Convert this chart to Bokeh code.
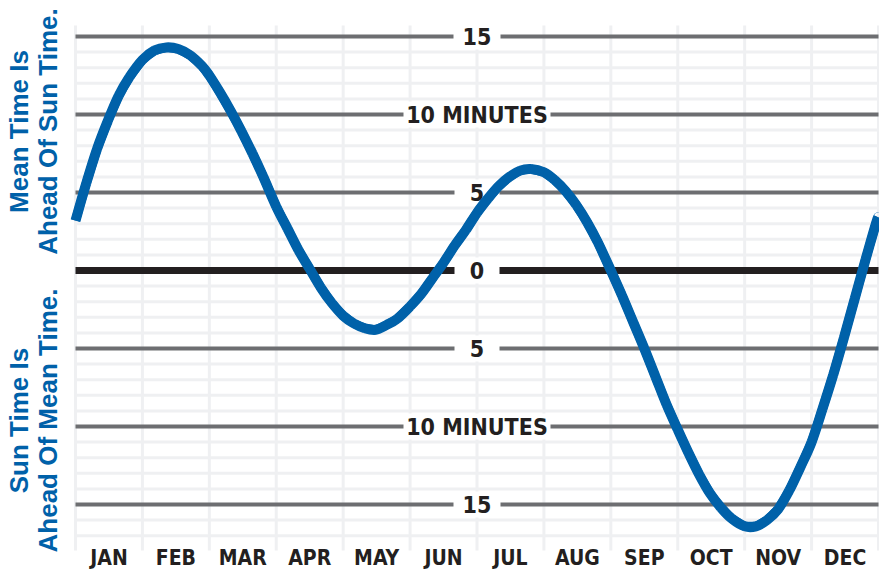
import math
from bokeh.plotting import figure
from bokeh.models import Range1d
from bokeh.core.properties import value
from bokeh.embed import file_html
from bokeh.resources import INLINE

# ---- data ----
month_names = ["JAN", "FEB", "MAR", "APR", "MAY", "JUN",
               "JUL", "AUG", "SEP", "OCT", "NOV", "DEC"]
days_in_month = [31, 28, 31, 30, 31, 30, 31, 31, 30, 31, 30, 31]

# equation of time samples (month number, day, minutes mean time ahead of sun time)
eot_month = [1]*6 + [2]*6 + [3]*6 + [4]*6 + [5]*6 + [6]*6 + \
            [7]*6 + [8]*6 + [9]*6 + [10]*6 + [11]*6 + [12]*7 + [13]
eot_day = [1, 6, 11, 16, 21, 26]*11 + [1, 6, 11, 16, 21, 26, 31] + [1]
eot_minutes = [
    3.2, 5.6, 7.8, 9.6, 11.2, 12.4,
    13.5, 14.1, 14.3, 14.2, 13.8, 13.1,
    12.5, 11.4, 10.2, 8.9, 7.5, 6.0,
    4.1, 2.7, 1.3, 0.1, -1.1, -2.1,
    -2.9, -3.4, -3.7, -3.8, -3.5, -3.1,
    -2.3, -1.5, -0.5, 0.5, 1.6, 2.6,
    3.7, 4.6, 5.4, 6.0, 6.4, 6.5,
    6.3, 5.8, 5.1, 4.2, 3.1, 1.8,
    0.0, -1.6, -3.3, -5.0, -6.8, -8.6,
    -10.2, -11.7, -13.1, -14.3, -15.2, -15.9,
    -16.4, -16.4, -16.0, -15.3, -14.1, -12.6,
    -11.0, -8.9, -6.7, -4.3, -1.8, 0.7, 3.1,
    3.4,
]

major_values = [15, 10, 5, 0, -5, -10, -15]
major_texts = ["15", "10 MINUTES", "5", "0", "5", "10 MINUTES", "15"]
minor_values = list(range(-17, 16))

upper_title = ["Mean Time Is", "Ahead Of Sun Time."]
lower_title = ["Sun Time Is", "Ahead Of Mean Time."]

# ---- layout constants ----
W, H = 879, 571
PLOT_LEFT_PX, PLOT_RIGHT_PX = 75, 878
ZERO_PX, PX_PER_MIN = 270, 15.6
PX_PER_MONTH = (PLOT_RIGHT_PX - PLOT_LEFT_PX) / 12
Y_TOP, Y_BOTTOM = 15.7, -17.95   # extent of the gridded area (minutes)


def px_to_x(px):
    return (px - PLOT_LEFT_PX) / PX_PER_MONTH


def px_to_y(py):
    return (ZERO_PX - py) / PX_PER_MIN


def month_pos(m, d):
    if m == 13:
        return 12.0
    return (m - 1) + (d - 1) / days_in_month[m - 1]


xs = [month_pos(m, d) for m, d in zip(eot_month, eot_day)]
ys = eot_minutes

# smooth rendering of the curve through the samples (Catmull-Rom as cubic Beziers)
n = len(xs)
bx0, by0, bx1, by1, bcx0, bcy0, bcx1, bcy1 = [], [], [], [], [], [], [], []
for i in range(n - 1):
    i0, i3 = max(i - 1, 0), min(i + 2, n - 1)
    bx0.append(xs[i]); by0.append(ys[i])
    bx1.append(xs[i + 1]); by1.append(ys[i + 1])
    bcx0.append(xs[i] + (xs[i + 1] - xs[i0]) / 6)
    bcy0.append(ys[i] + (ys[i + 1] - ys[i0]) / 6)
    bcx1.append(xs[i + 1] - (xs[i3] - xs[i]) / 6)
    bcy1.append(ys[i + 1] - (ys[i3] - ys[i]) / 6)

BLUE = "#0061A9"
DARK = "#231F20"
GREY = "#6D6E71"
LIGHT = "#EFF0F2"
COND = "DejaVu Sans Condensed"

p = figure(width=W, height=H, output_backend="svg", toolbar_location=None,
           x_range=Range1d(px_to_x(0), px_to_x(W)),
           y_range=Range1d(px_to_y(H), px_to_y(0)),
           x_axis_location=None, y_axis_location=None,
           min_border=0)
p.outline_line_color = None
p.background_fill_color = "white"
p.border_fill_color = "white"
p.grid.visible = False

n_months = len(month_names)

# light grid: verticals at month boundaries, horizontals every minute
vx = list(range(0, n_months + 1))
p.segment(x0=vx, y0=[Y_BOTTOM]*len(vx), x1=vx, y1=[Y_TOP]*len(vx),
          line_color=LIGHT, line_width=3)
p.segment(x0=[0]*len(minor_values), y0=minor_values,
          x1=[n_months]*len(minor_values), y1=minor_values,
          line_color=LIGHT, line_width=3)

# major lines
nonzero = [v for v in major_values if v != 0]
p.segment(x0=[0]*len(nonzero), y0=nonzero, x1=[n_months]*len(nonzero), y1=nonzero,
          line_color=GREY, line_width=4)
p.segment(x0=[0], y0=[0], x1=[n_months], y1=[0], line_color=DARK, line_width=7)

# label boxes and labels on the major lines
box_w = [47, 147, 45, 45, 45, 147, 47]
label_x = [6] * len(major_values)
p.rect(x=label_x, y=major_values, width=box_w, width_units="screen",
       height=26, height_units="screen", fill_color="white", line_color=None)
p.text(x=label_x, y=major_values, text=major_texts,
       text_align="center", text_baseline="middle",
       text_font=value(COND), text_font_style="bold",
       text_font_size="23px", text_color=DARK)

# curve: polyline underneath (fills seams) + smooth Bezier pieces on top
p.line(xs, ys, line_color=BLUE, line_width=9, line_join="round")
p.bezier(x0=bx0, y0=by0, x1=bx1, y1=by1, cx0=bcx0, cy0=bcy0, cx1=bcx1, cy1=bcy1,
         line_color=BLUE, line_width=10)

# month labels
p.text(x=[i + 0.5 for i in range(n_months)], y=[px_to_y(557)]*n_months,
       text=month_names, text_align="center", text_baseline="middle",
       text_font=value(COND), text_font_style="bold",
       text_font_size="21px", text_color=DARK)

# side titles
title_texts = [upper_title[0], upper_title[1], lower_title[0], lower_title[1]]
title_x = [px_to_x(18), px_to_x(47), px_to_x(18), px_to_x(47)]
title_y = [px_to_y(131), px_to_y(131), px_to_y(420), px_to_y(420)]
p.text(x=title_x, y=title_y, text=title_texts, angle=math.pi / 2,
       text_align="center", text_baseline="middle",
       text_font=value("Liberation Sans"), text_font_style="bold",
       text_font_size="26px", text_color=BLUE)

open("out.html", "w").write(file_html(p, INLINE))
